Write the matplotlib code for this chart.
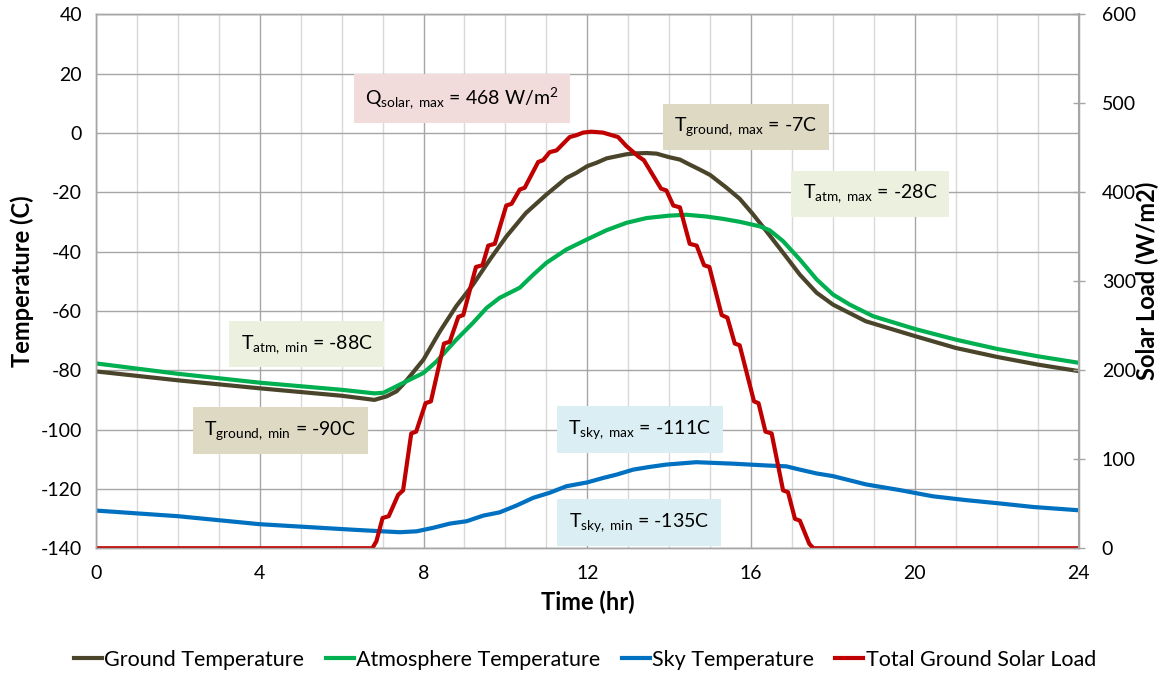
import matplotlib
matplotlib.use("Agg")
import matplotlib.pyplot as plt
from matplotlib.ticker import MultipleLocator

plt.rcParams['font.family'] = ['Lato', 'DejaVu Sans']
plt.rcParams['mathtext.fontset'] = 'custom'
plt.rcParams['mathtext.rm'] = 'Lato'
plt.rcParams['mathtext.it'] = 'Lato'
plt.rcParams['axes.unicode_minus'] = False

# ---- data ----
ground_hr = [0, 2, 4, 6, 6.8, 7.1, 7.34, 7.5, 7.67, 8.0, 8.4, 8.8, 9.21, 9.62, 10.03, 10.5,
             11.0, 11.49, 11.73, 12.0, 12.22, 12.47, 12.71, 12.96, 13.2, 13.45, 13.69, 14.0,
             14.26, 14.5, 14.75, 15.0, 15.4, 15.72, 16.05, 16.37, 16.78, 17.19, 17.6, 18.0,
             18.8, 20.0, 21.0, 22.0, 23.0, 24.0]
ground_temp = [-80.4, -83.4, -86.1, -88.6, -90.0, -88.8, -87.1, -84.8, -82.0, -76.4, -66.9,
               -58.4, -51.1, -42.7, -34.8, -27.0, -20.8, -15.2, -13.5, -11.2, -10.1, -8.6,
               -7.9, -7.2, -6.9, -6.8, -7.0, -8.2, -9.0, -10.7, -12.4, -14.2, -18.5, -22.2,
               -27.5, -33.1, -40.4, -47.8, -53.9, -57.9, -63.5, -68.5, -72.5, -75.5, -78.1,
               -80.3]

atm_hr = [0, 2, 4, 6, 6.8, 7.02, 7.5, 8.0, 8.32, 8.8, 9.21, 9.54, 9.86, 10.35, 10.68, 11.0,
          11.49, 11.98, 12.47, 12.96, 13.45, 14.0, 14.42, 14.91, 15.32, 15.73, 16.21, 16.45,
          16.78, 17.19, 17.6, 18.0, 18.41, 18.98, 20.0, 21.0, 22.0, 23.0, 24.0]
atm_temp = [-77.7, -81.2, -84.2, -86.6, -87.8, -87.6, -84.3, -80.9, -77.0, -69.7, -64.0,
            -59.0, -55.6, -52.2, -47.8, -43.8, -39.3, -36.0, -32.8, -30.3, -28.7, -27.9,
            -27.6, -28.2, -29.0, -30.0, -31.5, -32.8, -36.5, -42.7, -49.4, -54.5, -57.9,
            -61.8, -66.1, -69.7, -72.8, -75.3, -77.5]

sky_hr = [0, 2, 4, 6.2, 7.0, 7.42, 7.83, 8.24, 8.64, 9.05, 9.46, 9.86, 10.27, 10.68, 11.08,
          11.49, 12.0, 12.39, 12.71, 13.12, 13.52, 13.93, 14.66, 15.56, 16.37, 16.86, 17.19,
          17.6, 18.0, 18.81, 19.63, 20.44, 21.26, 22.07, 22.89, 24.0]
sky_temp = [-127.3, -129.2, -131.9, -133.7, -134.3, -134.6, -134.3, -133.1, -131.7, -130.9,
            -129.0, -127.9, -125.6, -123.0, -121.3, -119.1, -117.8, -116.3, -115.2, -113.5,
            -112.6, -111.8, -111.0, -111.5, -112.1, -112.4, -113.5, -114.8, -115.7, -118.5,
            -120.4, -122.5, -123.8, -124.9, -126.1, -127.2]

solar_hr = [0, 6.75, 6.85, 7.0, 7.15, 7.38, 7.5, 7.7, 7.82, 8.05, 8.18, 8.5, 8.64, 8.85, 8.97,
            9.28, 9.44, 9.58, 9.74, 10.02, 10.15, 10.35, 10.47, 10.8, 10.92, 11.08, 11.25,
            11.57, 11.73, 11.9, 12.1, 12.38, 12.6, 12.75, 12.95, 13.1, 13.25, 13.38, 13.8,
            13.93, 14.1, 14.26, 14.5, 14.67, 14.85, 14.98, 15.28, 15.42, 15.6, 15.72, 16.07,
            16.18, 16.35, 16.5, 16.78, 16.9, 17.07, 17.19, 17.42, 17.52, 24]
solar_load = [0, 0, 8, 34, 36, 60, 65, 129, 131, 163, 165, 230, 232, 260, 262, 316, 318, 340,
              342, 385, 387, 403, 405, 434, 436, 445, 447, 462, 464, 467, 468, 467, 464, 462,
              452, 446, 440, 436, 404, 402, 385, 383, 342, 340, 318, 316, 262, 259, 230, 228,
              165, 163, 131, 129, 65, 63, 33, 31, 5, 0, 0]

# annotation labels (text, x hr, y temp, box colour)
notes = [
    (r'$\mathregular{Q_{solar,\ max}}$ = 468 W/m$\mathregular{^2}$', 8.94, 11.6, '#f2dcdb'),
    (r'$\mathregular{T_{ground,\ max}}$ = -7C', 15.87, 2.1, '#ddd9c3'),
    (r'$\mathregular{T_{atm,\ max}}$ = -28C', 18.9, -20.5, '#ebf1de'),
    (r'$\mathregular{T_{atm,\ min}}$ = -88C', 5.15, -71.3, '#ebf1de'),
    (r'$\mathregular{T_{ground,\ min}}$ = -90C', 4.5, -100.3, '#ddd9c3'),
    (r'$\mathregular{T_{sky,\ max}}$ = -111C', 13.28, -100.0, '#daeef3'),
    (r'$\mathregular{T_{sky,\ min}}$ = -135C', 13.26, -131.3, '#daeef3'),
]

c_ground = '#4a452a'
c_atm = '#00b050'
c_sky = '#0070c0'
c_solar = '#c00000'

fig = plt.figure(figsize=(11.7, 6.76), dpi=100)
ax = fig.add_axes([0.082, 0.189, 0.840, 0.790])
ax2 = ax.twinx()

lg, = ax.plot(ground_hr, ground_temp, color=c_ground, lw=3, label='Ground Temperature')
la, = ax.plot(atm_hr, atm_temp, color=c_atm, lw=3, label='Atmosphere Temperature')
ls, = ax.plot(sky_hr, sky_temp, color=c_sky, lw=3, label='Sky Temperature')
lq, = ax2.plot(solar_hr, solar_load, color=c_solar, lw=3, label='Total Ground Solar Load')

ax.set_xlim(0, 24)
ax.set_ylim(-140, 40)
ax2.set_ylim(0, 600)
ax.xaxis.set_major_locator(MultipleLocator(4))
ax.xaxis.set_minor_locator(MultipleLocator(1))
ax.yaxis.set_major_locator(MultipleLocator(20))
ax2.yaxis.set_major_locator(MultipleLocator(100))

ax.grid(which='major', color='#a6a6a6', lw=1.0)
ax.grid(which='minor', axis='x', color='#d9d9d9', lw=1.0)
ax.set_axisbelow(True)

for a in (ax, ax2):
    for s in a.spines.values():
        s.set_color('#a6a6a6')
        s.set_linewidth(1.0)
ax2.spines['right'].set_linewidth(1.5)

ax.tick_params(axis='both', which='both', length=0, labelsize=14, colors='black')
ax.tick_params(axis='x', pad=12)
ax.tick_params(axis='y', pad=10)
ax2.tick_params(axis='y', direction='inout', length=9, width=1, color='#a6a6a6',
                labelsize=14, pad=12)

ax.set_xlabel('Time (hr)', fontsize=17, fontweight='bold', labelpad=6)
ax.set_ylabel('Temperature (C)', fontsize=17, fontweight='bold', labelpad=5)
ax2.set_ylabel('Solar Load (W/m2)', fontsize=17, fontweight='bold', labelpad=0)

for txt, x, y, col in notes:
    ax2.text(x, y, txt, transform=ax.transData, ha='center', va='center', fontsize=14,
             bbox=dict(boxstyle='square,pad=0.6', fc=col, ec='none'), zorder=5)

fig.legend(handles=[lg, la, ls, lq], loc='center', bbox_to_anchor=(0.5, 0.024), ncol=4,
           frameon=False, fontsize=15.5, handlelength=1.3, handletextpad=0.1,
           columnspacing=1.0)

fig.savefig('out.png', dpi=100)
